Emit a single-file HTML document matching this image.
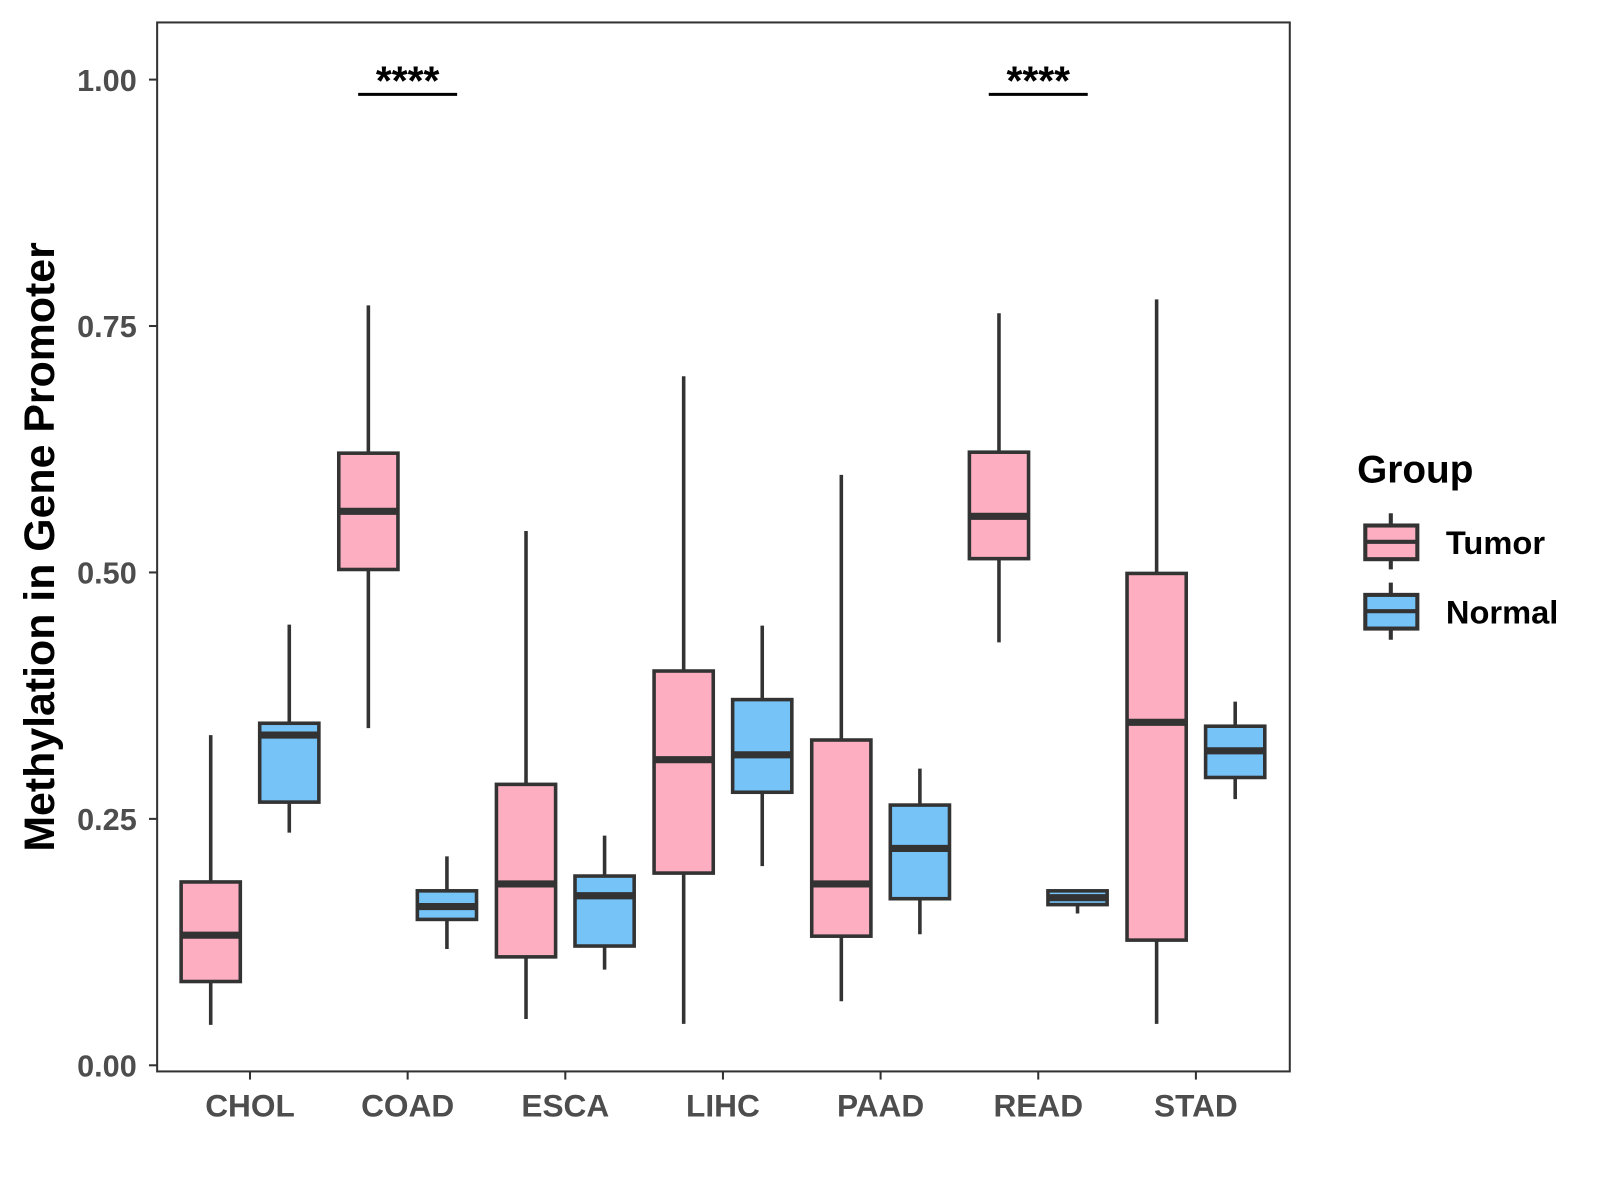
<!DOCTYPE html>
<html><head><meta charset="utf-8"><style>
html,body{margin:0;padding:0;background:#fff;}
svg{display:block;font-family:"Liberation Sans",Arial,sans-serif;}
</style></head><body>
<svg id="chart" width="1600" height="1200" viewBox="0 0 1600 1200" xmlns="http://www.w3.org/2000/svg">
<rect x="0" y="0" width="1600" height="1200" fill="#fff"/>
<g transform="scale(1.0204)">
<g id="marks"></g>
<rect x="154" y="22" width="1110" height="1028" fill="none" stroke="#333" stroke-width="2"/>
<g id="axes"></g>
<text x="53" y="536" transform="rotate(-90 53 536)" text-anchor="middle" font-size="42" font-weight="bold" fill="#000">Methylation in Gene Promoter</text>
<g>
<text x="1330" y="473" font-size="38" font-weight="bold" fill="#000">Group</text>
<g>
<line x1="1363" y1="503" x2="1363" y2="558" stroke="#333" stroke-width="4"/>
<rect x="1338" y="515" width="51" height="33" fill="#FDAFC1" stroke="#333" stroke-width="4"/>
<line x1="1338" y1="531" x2="1389" y2="531" stroke="#333" stroke-width="4"/>
<text x="1417" y="543" font-size="32" font-weight="bold" fill="#000">Tumor</text>
</g>
<g>
<line x1="1363" y1="571" x2="1363" y2="627" stroke="#333" stroke-width="4"/>
<rect x="1338" y="583" width="51" height="33" fill="#76C3F8" stroke="#333" stroke-width="4"/>
<line x1="1338" y1="599" x2="1389" y2="599" stroke="#333" stroke-width="4"/>
<text x="1417" y="611" font-size="32" font-weight="bold" fill="#000">Normal</text>
</g>
</g>
</g>
</svg>
<script>
const categories = ["CHOL","COAD","ESCA","LIHC","PAAD","READ","STAD"];
// [lower whisker, q1, median, q3, upper whisker]
const tumorStats = [
 [0.041,0.085,0.132,0.186,0.335],
 [0.342,0.503,0.562,0.621,0.771],
 [0.047,0.110,0.184,0.285,0.542],
 [0.042,0.195,0.310,0.400,0.699],
 [0.065,0.131,0.184,0.330,0.599],
 [0.429,0.514,0.557,0.622,0.763],
 [0.042,0.127,0.348,0.499,0.777]
];
const normalStats = [
 [0.236,0.267,0.335,0.347,0.447],
 [0.118,0.148,0.161,0.177,0.212],
 [0.097,0.121,0.172,0.192,0.233],
 [0.202,0.277,0.315,0.371,0.446],
 [0.133,0.169,0.220,0.264,0.301],
 [0.154,0.163,0.170,0.177,0.177],
 [0.270,0.292,0.319,0.344,0.369]
];
const yTicks = [0,0.25,0.5,0.75,1.0];
const yTickLabels = ["0.00","0.25","0.50","0.75","1.00"];
const sigCategories = ["COAD","READ"];
const sigLabels = ["****","****"];
const sigY = 0.985;

const NS="http://www.w3.org/2000/svg";
function y(v){return 1044 - v*966;}
function x(i){return 245 + i*154.5;}
function mk(tag,attrs,parent){const e=document.createElementNS(NS,tag);for(const k in attrs)e.setAttribute(k,attrs[k]);parent.appendChild(e);return e;}
const marks=document.getElementById('marks'), axes=document.getElementById('axes');
function drawBox(s,cx,fill,name){
  const g=mk('g',{},marks);
  
  
  const w=58;
  mk('line',{x1:cx,x2:cx,y1:y(s[4]),y2:y(s[0]),stroke:'#333','stroke-width':3.5},g);
  mk('rect',{x:cx-w/2,y:y(s[3]),width:w,height:y(s[1])-y(s[3]),fill:fill,stroke:'#333','stroke-width':3.5},g);
  mk('line',{x1:cx-w/2,x2:cx+w/2,y1:y(s[2]),y2:y(s[2]),stroke:'#333','stroke-width':7},g);
}
categories.forEach((c,i)=>{
  drawBox(tumorStats[i],x(i)-38.5,'#FDAFC1','box-tumor-'+c.toLowerCase());
  drawBox(normalStats[i],x(i)+38.5,'#76C3F8','box-normal-'+c.toLowerCase());
  mk('line',{x1:x(i),x2:x(i),y1:1050,y2:1058,stroke:'#333','stroke-width':2},axes);
  const lb=mk('text',{x:x(i),y:1094,'text-anchor':'middle','font-size':31,'font-weight':'bold',fill:'#4d4d4d'},axes);
  lb.textContent=c;
  
  
});
yTicks.forEach((v,i)=>{
  mk('line',{x1:146,x2:154,y1:y(v),y2:y(v),stroke:'#333','stroke-width':2},axes);
  const lb=mk('text',{x:134,y:y(v)+11,'text-anchor':'end','font-size':30,'font-weight':'bold',fill:'#4d4d4d'},axes);
  lb.textContent=yTickLabels[i];
  
  
});
sigCategories.forEach((c,k)=>{
  const i=categories.indexOf(c);
  const g=mk('g',{},marks);
  
  
  mk('line',{x1:x(i)-48.5,x2:x(i)+48.5,y1:y(sigY),y2:y(sigY),stroke:'#000','stroke-width':3},g);
  const t=mk('text',{x:x(i),y:y(sigY),'text-anchor':'middle','font-size':40,'font-weight':'bold',fill:'#000'},g);
  t.textContent=sigLabels[k];
});
</script>
</body></html>
